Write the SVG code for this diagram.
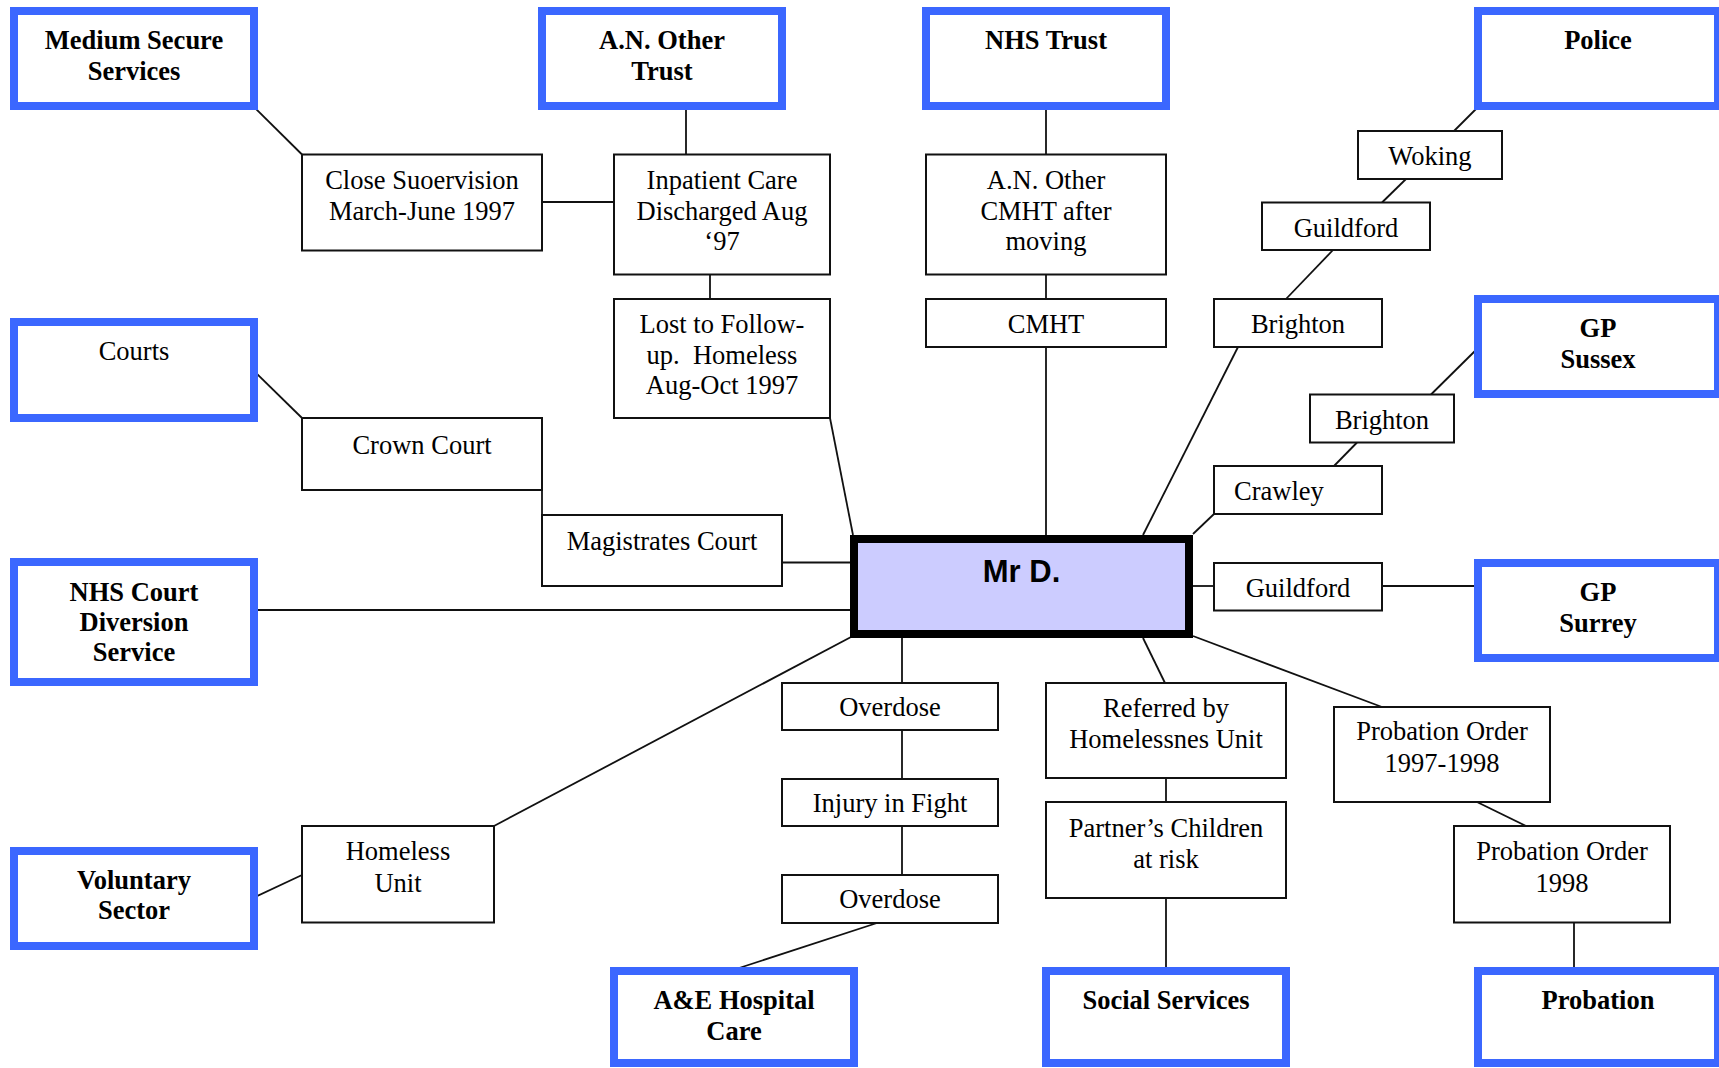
<svg xmlns="http://www.w3.org/2000/svg" width="1719" height="1068" viewBox="0 0 1719 1068">
<style>
.blue{fill:#fff;stroke:#3B67FF;stroke-width:8}
.box{fill:#fff;stroke:#111;stroke-width:2}
.main{fill:#CCCCFF;stroke:#000;stroke-width:8}
.t{font-family:"Liberation Serif","Times New Roman",serif;font-size:26.5px;text-anchor:middle;fill:#000}
.b{font-weight:bold}
.s{font-family:"Liberation Sans",Arial,sans-serif;font-size:31px;font-weight:bold;text-anchor:middle;fill:#000}
#connectors line{stroke:#111;stroke-width:1.8}
</style>
<rect width="1719" height="1068" fill="#fff"/>
<g id="connectors">
<line x1="253" y1="106" x2="302" y2="154.5"/>
<line x1="542" y1="202" x2="614" y2="202"/>
<line x1="686" y1="106" x2="686" y2="154.5"/>
<line x1="710" y1="274.5" x2="710" y2="299"/>
<line x1="830" y1="418" x2="853" y2="535"/>
<line x1="1046" y1="106" x2="1046" y2="154.5"/>
<line x1="1046" y1="274.5" x2="1046" y2="299"/>
<line x1="1046" y1="347" x2="1046" y2="535"/>
<line x1="1478" y1="107" x2="1454" y2="131"/>
<line x1="1406" y1="179" x2="1382" y2="202.5"/>
<line x1="1333" y1="250" x2="1286" y2="299"/>
<line x1="1238" y1="347" x2="1143" y2="535"/>
<line x1="1479" y1="347" x2="1431" y2="394.5"/>
<line x1="1357" y1="442.5" x2="1334" y2="466"/>
<line x1="1214" y1="514" x2="1193" y2="534"/>
<line x1="1193" y1="586" x2="1214" y2="586"/>
<line x1="1382" y1="586" x2="1478" y2="586"/>
<line x1="253" y1="370" x2="302" y2="418"/>
<line x1="542" y1="490" x2="542" y2="515"/>
<line x1="782" y1="562.5" x2="850" y2="562.5"/>
<line x1="254" y1="610" x2="850" y2="610"/>
<line x1="851" y1="637" x2="494" y2="826"/>
<line x1="253" y1="898" x2="302" y2="875"/>
<line x1="902" y1="638" x2="902" y2="683"/>
<line x1="902" y1="730" x2="902" y2="779"/>
<line x1="902" y1="826" x2="902" y2="875"/>
<line x1="877" y1="923" x2="733" y2="970"/>
<line x1="1143" y1="638" x2="1165" y2="683"/>
<line x1="1166" y1="778" x2="1166" y2="802"/>
<line x1="1166" y1="898" x2="1166" y2="968"/>
<line x1="1193" y1="636" x2="1382" y2="707"/>
<line x1="1477" y1="802" x2="1526" y2="826"/>
<line x1="1574" y1="922.5" x2="1574" y2="968"/>
</g>
<g id="medium-secure"><rect class="blue" x="14" y="11" width="240" height="95"/><text class="t b" x="134" y="49">Medium Secure</text><text class="t b" x="134" y="80">Services</text></g>
<g id="an-other-trust"><rect class="blue" x="542" y="11" width="240" height="95"/><text class="t b" x="662" y="49">A.N. Other</text><text class="t b" x="662" y="80">Trust</text></g>
<g id="nhs-trust"><rect class="blue" x="926" y="11" width="240" height="95"/><text class="t b" x="1046" y="49">NHS Trust</text></g>
<g id="police"><rect class="blue" x="1478" y="11" width="240" height="95"/><text class="t b" x="1598" y="49">Police</text></g>
<g id="courts"><rect class="blue" x="14" y="322" width="240" height="96"/><text class="t" x="134" y="360">Courts</text></g>
<g id="gp-sussex"><rect class="blue" x="1478" y="299" width="240" height="95"/><text class="t b" x="1598" y="337">GP</text><text class="t b" x="1598" y="368">Sussex</text></g>
<g id="nhs-court-diversion"><rect class="blue" x="14" y="562" width="240" height="120"/><text class="t b" x="134" y="601">NHS Court</text><text class="t b" x="134" y="631">Diversion</text><text class="t b" x="134" y="661">Service</text></g>
<g id="gp-surrey"><rect class="blue" x="1478" y="563" width="240" height="95"/><text class="t b" x="1598" y="601">GP</text><text class="t b" x="1598" y="632">Surrey</text></g>
<g id="voluntary-sector"><rect class="blue" x="14" y="851" width="240" height="95"/><text class="t b" x="134" y="889">Voluntary</text><text class="t b" x="134" y="919">Sector</text></g>
<g id="ae-hospital"><rect class="blue" x="614" y="971" width="240" height="92"/><text class="t b" x="734" y="1009">A&amp;E Hospital</text><text class="t b" x="734" y="1040">Care</text></g>
<g id="social-services"><rect class="blue" x="1046" y="971" width="240" height="92"/><text class="t b" x="1166" y="1009">Social Services</text></g>
<g id="probation"><rect class="blue" x="1478" y="971" width="240" height="92"/><text class="t b" x="1598" y="1009">Probation</text></g>
<g id="close-supervision"><rect class="box" x="302" y="154.5" width="240" height="96"/><text class="t" x="422" y="189">Close Suoervision</text><text class="t" x="422" y="220">March-June 1997</text></g>
<g id="inpatient-care"><rect class="box" x="614" y="154.5" width="216" height="120"/><text class="t" x="722" y="189">Inpatient Care</text><text class="t" x="722" y="220">Discharged Aug</text><text class="t" x="722" y="250">‘97</text></g>
<g id="lost-follow-up"><rect class="box" x="614" y="299" width="216" height="119"/><text class="t" x="722" y="333">Lost to Follow-</text><text class="t" x="722" y="364">up.&#160; Homeless</text><text class="t" x="722" y="394">Aug-Oct 1997</text></g>
<g id="cmht-after"><rect class="box" x="926" y="154.5" width="240" height="120"/><text class="t" x="1046" y="189">A.N. Other</text><text class="t" x="1046" y="220">CMHT after</text><text class="t" x="1046" y="250">moving</text></g>
<g id="cmht"><rect class="box" x="926" y="299" width="240" height="48"/><text class="t" x="1046" y="333">CMHT</text></g>
<g id="woking"><rect class="box" x="1358" y="131" width="144" height="48"/><text class="t" x="1430" y="164.5">Woking</text></g>
<g id="guildford-police"><rect class="box" x="1262" y="202.5" width="168" height="47.5"/><text class="t" x="1346" y="237">Guildford</text></g>
<g id="brighton-police"><rect class="box" x="1214" y="299" width="168" height="48"/><text class="t" x="1298" y="333">Brighton</text></g>
<g id="brighton-gp"><rect class="box" x="1310" y="394.5" width="144" height="48"/><text class="t" x="1382" y="429">Brighton</text></g>
<g id="crawley"><rect class="box" x="1214" y="466" width="168" height="48"/><text class="t" x="1234" y="500" style="text-anchor:start">Crawley</text></g>
<g id="guildford-gp"><rect class="box" x="1214" y="563" width="168" height="47.5"/><text class="t" x="1298" y="597">Guildford</text></g>
<g id="crown-court"><rect class="box" x="302" y="418" width="240" height="72"/><text class="t" x="422" y="454">Crown Court</text></g>
<g id="magistrates-court"><rect class="box" x="542" y="515" width="240" height="71"/><text class="t" x="662" y="549.5">Magistrates Court</text></g>
<g id="mr-d"><rect class="main" x="854" y="539" width="335" height="95"/><text class="s" x="1021.5" y="582">Mr D.</text></g>
<g id="overdose-1"><rect class="box" x="782" y="683" width="216" height="47"/><text class="t" x="890" y="716">Overdose</text></g>
<g id="injury"><rect class="box" x="782" y="779" width="216" height="47"/><text class="t" x="890" y="812">Injury in Fight</text></g>
<g id="overdose-2"><rect class="box" x="782" y="875" width="216" height="48"/><text class="t" x="890" y="908">Overdose</text></g>
<g id="referred"><rect class="box" x="1046" y="683" width="240" height="95"/><text class="t" x="1166" y="717">Referred by</text><text class="t" x="1166" y="748">Homelessnes Unit</text></g>
<g id="partners-children"><rect class="box" x="1046" y="802" width="240" height="96"/><text class="t" x="1166" y="837">Partner’s Children</text><text class="t" x="1166" y="868">at risk</text></g>
<g id="probation-order-97"><rect class="box" x="1334" y="707" width="216" height="95"/><text class="t" x="1442" y="740">Probation Order</text><text class="t" x="1442" y="772">1997-1998</text></g>
<g id="probation-order-98"><rect class="box" x="1454" y="826" width="216" height="96.5"/><text class="t" x="1562" y="860">Probation Order</text><text class="t" x="1562" y="892">1998</text></g>
<g id="homeless-unit"><rect class="box" x="302" y="826" width="192" height="96.5"/><text class="t" x="398" y="860">Homeless</text><text class="t" x="398" y="892">Unit</text></g>
</svg>
